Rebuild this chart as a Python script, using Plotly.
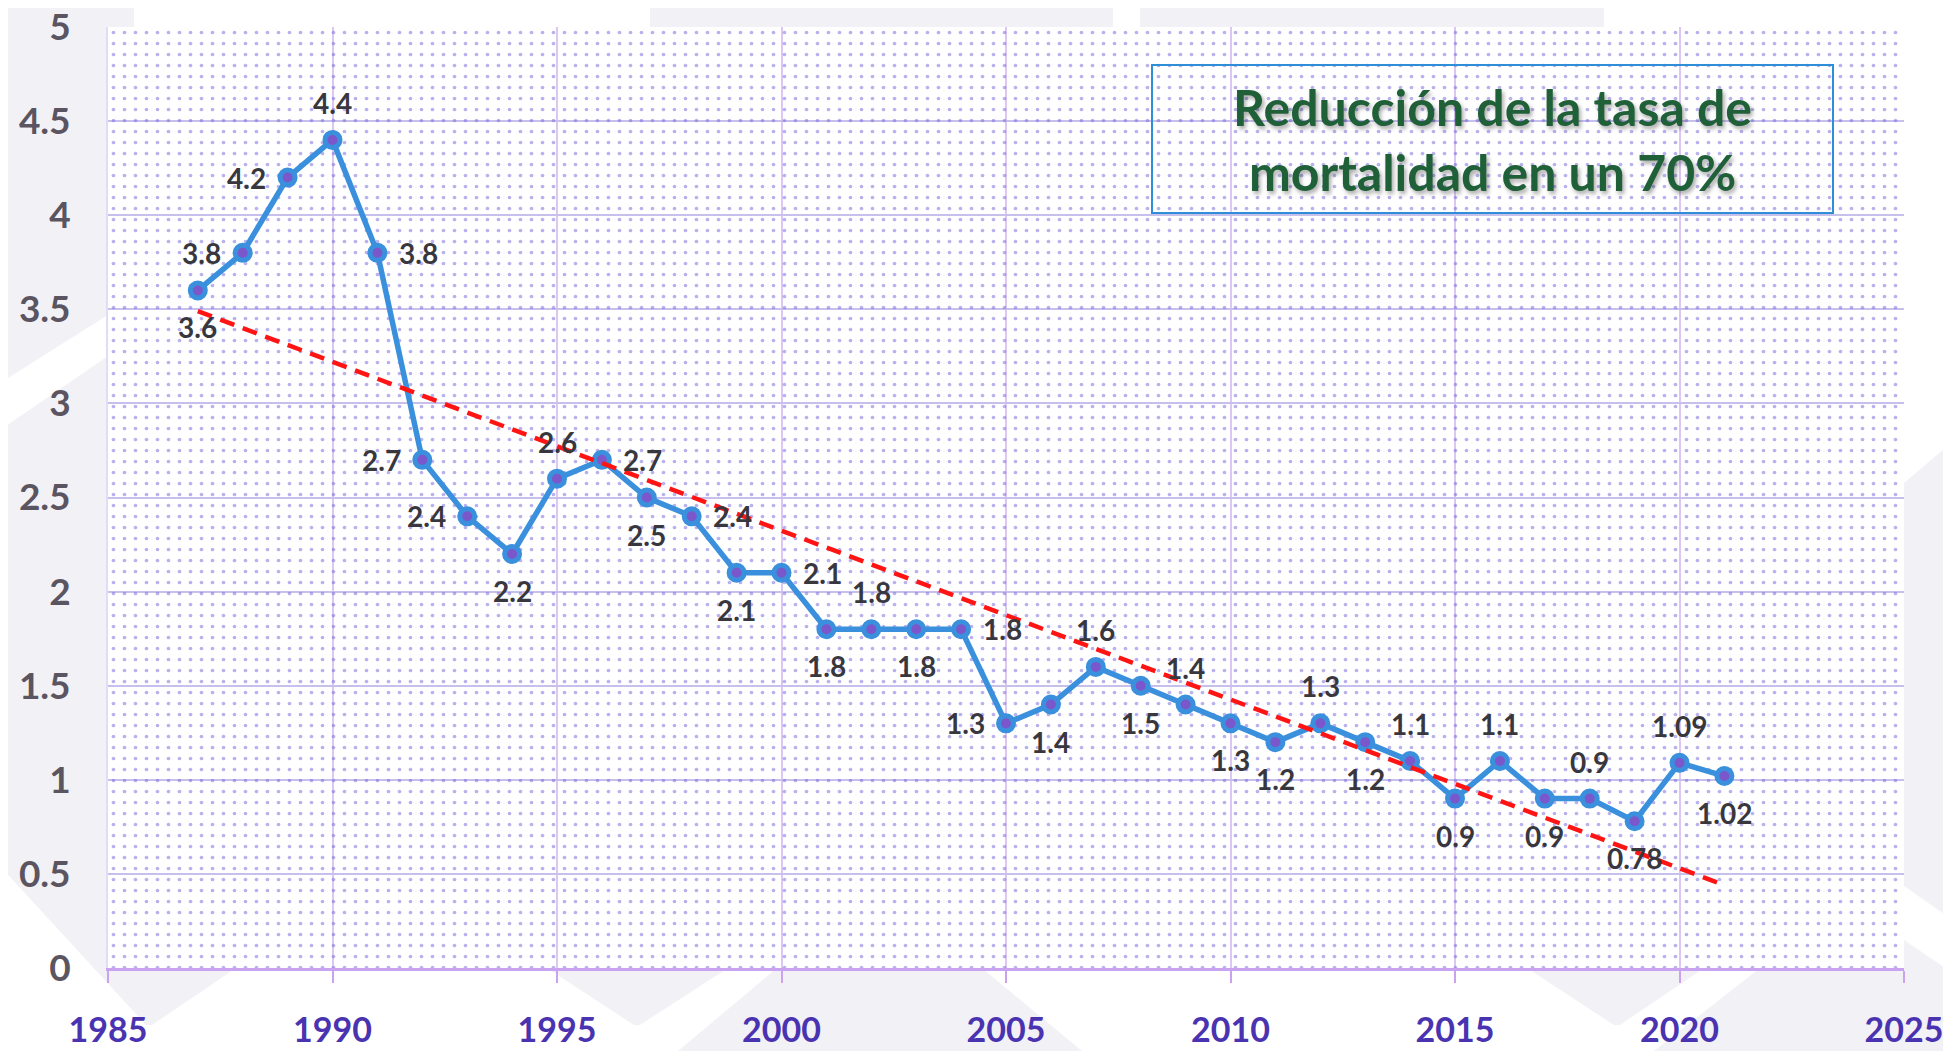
import plotly.graph_objects as go

# --- data ---
anios = list(range(1987, 2022))
tasa = [3.6, 3.8, 4.2, 4.4, 3.8, 2.7, 2.4, 2.2, 2.6, 2.7,
        2.5, 2.4, 2.1, 2.1, 1.8, 1.8, 1.8, 1.8, 1.3, 1.4,
        1.6, 1.5, 1.4, 1.3, 1.2, 1.3, 1.2, 1.1, 0.9, 1.1,
        0.9, 0.9, 0.78, 1.09, 1.02]
etiquetas = [f"{v:g}" for v in tasa]
# where each data label sits relative to its point
posiciones = [
    "below", "left", "left", "above", "right",
    "left", "left", "below", "above", "right",
    "below", "right", "below", "right", "below",
    "above", "below", "right", "left", "below",
    "above", "below", "above", "below", "below",
    "above", "below", "above", "below", "above",
    "below", "above", "below", "above", "below",
]

# linear trend line (end points as drawn in the reference)
tendencia_x = [1987, 2021]
tendencia_y = [3.49, 0.44]

titulo = "Reducción de la tasa de<br>mortalidad en un 70%"

X_RANGE = [1985, 2025]
Y_RANGE = [0, 5]

# --- page geometry (pixels in the final screenshot) ---
W, H = 1951, 1051
BODY = 8  # default page margin around the figure div
ML, MR, MT, MB = 108, 47, 27, 83
PW, PH = W - ML - MR, H - MT - MB


def to_paper(x, y):
    return (x - ML) / PW, (H - MB - y) / PH


def poly(points):
    pts = [to_paper(x, y) for x, y in points]
    return "M " + " L ".join(f"{a:.4f},{b:.4f}" for a, b in pts) + " Z"


GRIS = "#f2f1f6"
fondo = [
    [(0, 0), (134, 0), (134, 27), (108, 27), (108, 315), (0, 383)],
    [(0, 430), (108, 356), (108, 968), (236, 968), (152, 1025), (146, 1025), (0, 866)],
    [(547, 968), (728, 968), (640, 1025), (634, 1025)],
    [(777, 968), (982, 968), (1082, 1051), (678, 1051)],
    [(1527, 968), (1704, 968), (1620, 1025), (1614, 1025)],
    [(1760, 968), (1951, 968), (1951, 1051), (1654, 1051)],
    [(650, 0), (1113, 0), (1113, 27), (650, 27)],
    [(1140, 0), (1604, 0), (1604, 27), (1140, 27)],
    [(1904, 483), (1951, 443), (1951, 919), (1904, 886)],
    [(1904, 940), (1951, 972), (1951, 968), (1904, 968)],
]

shapes = [dict(type="path", xref="paper", yref="paper", path=poly(p),
               fillcolor=GRIS, line=dict(width=0), layer="below") for p in fondo]

# title box
bx0, by0 = to_paper(1152, 213)
bx1, by1 = to_paper(1833, 65)
shapes.append(dict(type="rect", xref="paper", yref="paper",
                   x0=bx0, y0=by0, x1=bx1, y1=by1,
                   line=dict(color="#2f8ed8", width=2), fillcolor="rgba(0,0,0,0)"))

fig = go.Figure()

# dotted plot-area background
fig.add_trace(go.Scatter(
    x=[X_RANGE[0], X_RANGE[1], X_RANGE[1], X_RANGE[0], X_RANGE[0]],
    y=[Y_RANGE[0], Y_RANGE[0], Y_RANGE[1], Y_RANGE[1], Y_RANGE[0]],
    mode="none", fill="toself", fillcolor="rgba(0,0,0,0)",
    fillpattern=dict(shape=".", fgcolor="#7466dc", bgcolor="rgba(0,0,0,0)",
                     size=11, solidity=0.09),
    hoverinfo="skip", showlegend=False,
))

fig.add_trace(go.Scatter(
    x=anios, y=tasa, mode="lines+markers",
    line=dict(color="#3a90dc", width=5.5),
    marker=dict(size=15, color="#7a58cc", line=dict(color="#3a90dc", width=5)),
    showlegend=False,
))

fig.add_trace(go.Scatter(
    x=tendencia_x, y=tendencia_y, mode="lines",
    line=dict(color="#ff1414", width=4.5, dash="15px,9px"),
    hoverinfo="skip", showlegend=False,
))

# data labels
desplaza = {"above": (0, 37), "below": (0, -37), "left": (-41, 0), "right": (41, 0)}
for x, y, t, p in zip(anios, tasa, etiquetas, posiciones):
    dx, dy = desplaza[p]
    fig.add_annotation(
        x=x, y=y, text=t, showarrow=False, xshift=dx, yshift=dy,
        xanchor="center", yanchor="middle",
        font=dict(family="Lato", size=28, color="#38373e", weight="bold"),
    )

cx, cy = to_paper(1492, 139)
fig.add_annotation(
    xref="paper", yref="paper", x=cx, y=cy, text=titulo, showarrow=False,
    xanchor="center", yanchor="middle",
    font=dict(family="Lato", size=50, color="#1f6038", weight="bold",
              shadow="2px 3px 4px rgba(0,0,0,0.35)"),
)

fig.update_layout(
    width=W - BODY, height=H - BODY,
    margin=dict(l=ML - BODY, r=MR, t=MT - BODY, b=MB, autoexpand=False),
    paper_bgcolor="white", plot_bgcolor="white",
    shapes=shapes,
    xaxis=dict(
        range=X_RANGE, tick0=1985, dtick=5, automargin=False,
        showgrid=True, gridcolor="#dcc6f2", gridwidth=1.5,
        showline=True, linecolor="#c9a3ef", linewidth=3,
        ticks="outside", ticklen=12, tickcolor="#c9a3ef", tickwidth=1.5,
        ticklabelstandoff=18, ticklabeloverflow="allow",
        tickfont=dict(family="Lato", size=34, color="#4a33b0", weight="bold"),
        zeroline=False,
    ),
    yaxis=dict(
        range=Y_RANGE, dtick=0.5, automargin=False,
        showgrid=True, gridcolor="#c8c0ec", gridwidth=2,
        showline=True, linecolor="#e2dcf6", linewidth=2,
        ticks="", ticklabelstandoff=28, ticklabeloverflow="allow",
        tickfont=dict(family="Lato", size=37, color="#5a5560", weight="bold"),
        zeroline=False,
    ),
)

fig.write_html("out.html")
